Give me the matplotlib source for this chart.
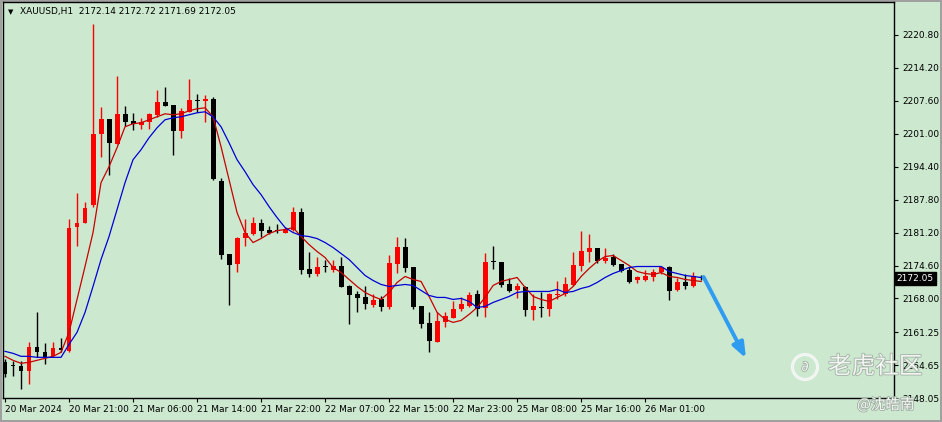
import numpy as np
import matplotlib.pyplot as plt
import matplotlib.patheffects as pe
from matplotlib.patches import Circle

# hourly XAUUSD candles, 20 Mar 13:00 .. 26 Mar
opens = [2155.2, 2154.4, 2154.4, 2153.4, 2158.2, 2157.2, 2156.4, 2158.0, 2157.4, 2182.4,
         2183.2, 2186.8, 2201.0, 2204.0, 2199.0, 2205.0, 2203.6, 2202.8, 2203.4, 2204.8,
         2207.4, 2206.8, 2201.6, 2205.4, 2207.8, 2207.6, 2208.0, 2191.6, 2177.0, 2175.0,
         2180.2, 2181.0, 2183.2, 2181.8, 2181.6, 2181.2, 2181.8, 2185.4, 2173.8, 2172.8,
         2174.4, 2173.6, 2174.6, 2170.4, 2168.8, 2168.2, 2166.6, 2167.8, 2166.2, 2175.0,
         2178.4, 2174.2, 2166.4, 2163.0, 2159.2, 2163.2, 2164.0, 2165.8, 2166.4, 2168.8,
         2166.0, 2175.4, 2175.4, 2170.8, 2169.6, 2170.2, 2165.6, 2166.2, 2165.8, 2168.6,
         2168.8, 2170.6, 2174.6, 2177.4, 2178.2, 2175.6, 2176.4, 2175.0, 2173.6, 2171.6,
         2171.6, 2172.2, 2173.2, 2174.2, 2169.6, 2171.2, 2170.4, 2172.14]
highs = [2155.8, 2155.4, 2155.4, 2159.2, 2165.2, 2159.0, 2159.2, 2160.0, 2184.0, 2189.2,
         2187.4, 2223.0, 2206.4, 2204.0, 2212.6, 2206.6, 2205.2, 2204.2, 2205.2, 2209.8,
         2210.4, 2206.8, 2206.2, 2212.0, 2209.0, 2208.8, 2208.4, 2192.2, 2177.0, 2180.4,
         2184.0, 2184.4, 2184.0, 2182.6, 2183.0, 2182.4, 2186.4, 2186.2, 2177.4, 2176.4,
         2175.8, 2175.8, 2176.4, 2170.6, 2169.4, 2170.4, 2168.8, 2168.4, 2176.8, 2180.4,
         2180.2, 2174.2, 2166.4, 2165.2, 2165.2, 2165.2, 2167.4, 2168.2, 2169.2, 2169.6,
         2177.2, 2178.6, 2175.4, 2172.0, 2171.0, 2170.4, 2168.8, 2169.2, 2169.0, 2171.4,
         2172.2, 2177.4, 2181.6, 2181.0, 2178.2, 2178.2, 2177.0, 2175.0, 2174.2, 2172.4,
         2173.6, 2173.8, 2174.4, 2174.4, 2172.0, 2172.8, 2173.2, 2172.72]
lows = [2152.2, 2152.4, 2149.8, 2150.8, 2156.2, 2154.8, 2156.2, 2157.2, 2157.2, 2178.6,
        2183.2, 2186.4, 2196.4, 2192.8, 2199.0, 2202.6, 2201.8, 2202.0, 2202.0, 2204.4,
        2206.6, 2196.8, 2200.2, 2205.4, 2205.4, 2203.4, 2191.8, 2176.0, 2166.6, 2173.2,
        2178.6, 2180.8, 2180.4, 2181.0, 2181.2, 2181.2, 2181.6, 2172.8, 2172.2, 2172.4,
        2173.2, 2173.2, 2170.2, 2162.8, 2165.2, 2165.8, 2166.2, 2165.4, 2165.8, 2173.0,
        2173.2, 2165.8, 2162.0, 2157.2, 2159.2, 2162.2, 2164.0, 2165.4, 2166.2, 2164.4,
        2164.2, 2173.8, 2170.2, 2169.2, 2168.0, 2164.4, 2163.6, 2164.2, 2164.4, 2167.8,
        2168.4, 2170.4, 2173.4, 2175.4, 2175.2, 2175.2, 2174.4, 2173.2, 2171.0, 2171.0,
        2171.4, 2171.4, 2172.8, 2167.6, 2169.4, 2169.8, 2170.2, 2171.69]
closes = [2152.8, 2154.4, 2153.4, 2158.2, 2157.2, 2156.2, 2158.0, 2157.6, 2182.2, 2183.2,
          2186.2, 2201.0, 2204.0, 2199.2, 2205.0, 2203.4, 2203.0, 2203.4, 2205.0, 2207.4,
          2206.6, 2201.6, 2205.6, 2207.8, 2207.6, 2208.0, 2192.0, 2176.8, 2174.8, 2180.2,
          2181.2, 2183.2, 2181.6, 2181.2, 2181.5, 2182.0, 2185.4, 2173.6, 2172.8, 2174.2,
          2174.2, 2174.6, 2170.2, 2168.6, 2168.0, 2166.8, 2167.6, 2166.2, 2175.2, 2178.4,
          2174.0, 2166.2, 2162.8, 2159.4, 2163.4, 2164.4, 2165.8, 2166.8, 2168.6, 2165.8,
          2175.4, 2175.3, 2170.6, 2169.4, 2170.4, 2165.6, 2166.4, 2166.0, 2168.8, 2168.8,
          2170.8, 2174.8, 2177.6, 2178.2, 2175.6, 2176.2, 2174.8, 2173.4, 2171.2, 2172.2,
          2172.4, 2173.2, 2174.2, 2169.4, 2171.2, 2170.4, 2172.4, 2172.05]

# moving averages as drawn on the chart
ma_fast = [2156.4, 2155.6, 2155.0, 2155.2, 2155.6, 2156.0, 2156.4, 2157.2, 2161.2, 2167.8,
           2174.4, 2181.2, 2191.2, 2194.4, 2198.2, 2202.4, 2203.0, 2203.2, 2203.8, 2204.4,
           2205.0, 2204.8, 2205.0, 2205.6, 2206.0, 2206.2, 2204.4, 2198.4, 2191.8, 2185.2,
           2181.2, 2179.2, 2180.0, 2181.0, 2181.6, 2181.8, 2182.2, 2180.4, 2178.8, 2177.4,
           2176.2, 2174.2, 2173.2, 2171.8, 2170.4, 2169.2, 2168.4, 2167.8, 2169.2, 2171.2,
           2172.4, 2171.8, 2171.4, 2168.4, 2165.2, 2163.8, 2163.2, 2163.6, 2164.8, 2166.2,
           2168.2, 2170.6, 2171.4, 2171.8, 2172.2, 2170.2, 2168.4, 2167.8, 2167.4, 2168.2,
           2169.0, 2170.4, 2172.4, 2174.0, 2175.4, 2176.4, 2176.6, 2175.6, 2174.6, 2173.4,
           2173.0, 2172.8, 2173.2, 2172.4, 2172.2, 2171.8, 2171.6, 2171.4]
ma_slow = [2157.4, 2157.0, 2156.4, 2156.4, 2156.2, 2156.2, 2156.2, 2156.2, 2158.8, 2161.2,
           2165.2, 2170.4, 2175.8, 2180.4, 2185.8, 2191.2, 2195.8, 2197.8, 2200.2, 2202.2,
           2203.8, 2204.2, 2204.4, 2204.8, 2205.2, 2205.4, 2204.4, 2202.4, 2199.2, 2195.8,
           2193.4, 2190.8, 2188.8, 2186.4, 2184.2, 2182.2, 2181.2, 2180.6, 2180.4, 2180.0,
           2179.2, 2178.2, 2177.0, 2175.8, 2174.2, 2172.6, 2171.6, 2170.8, 2170.4, 2170.6,
           2170.8, 2170.6, 2169.6, 2168.6, 2168.2, 2168.2, 2167.8, 2168.0, 2167.4, 2166.2,
           2166.4, 2167.2, 2167.8, 2168.4, 2169.2, 2169.4, 2169.4, 2169.4, 2169.4, 2169.8,
           2169.2, 2169.4, 2170.0, 2170.4, 2171.2, 2172.2, 2173.0, 2173.6, 2174.2, 2174.4,
           2174.4, 2174.4, 2174.4, 2173.4, 2173.0, 2172.6, 2172.4, 2172.2]

price_ticks = [2220.80, 2214.20, 2207.60, 2201.00, 2194.40, 2187.80,
               2181.20, 2174.60, 2168.00, 2161.25, 2154.65, 2148.05]
time_bars = [0, 8, 16, 24, 32, 40, 48, 56, 64, 72, 80]
time_labels = ["20 Mar 2024", "20 Mar 21:00", "21 Mar 06:00", "21 Mar 14:00",
               "21 Mar 22:00", "22 Mar 07:00", "22 Mar 15:00", "22 Mar 23:00",
               "25 Mar 08:00", "25 Mar 16:00", "26 Mar 01:00"]
header = "XAUUSD,H1  2172.14 2172.72 2171.69 2172.05"
last_price = 2172.05
arrow_start = (87.3, 2172.3)
arrow_end = (92.6, 2156.0)

bg = "#cce8cf"
fig = plt.figure(figsize=(9.42, 4.22), dpi=100, facecolor=bg)
fig.patch.set_edgecolor("#a0a0a0")
fig.patch.set_linewidth(1.5)
ax = fig.add_axes([3 / 942, 1 - 398 / 422, 891 / 942, 396 / 422])
ax.set_facecolor(bg)

x = np.arange(len(opens))
o = np.array(opens)
c = np.array(closes)
colors = np.where(c > o, "#ff0000", "#000000")
ax.vlines(x, lows, highs, colors=colors, linewidth=1)
body = np.maximum(np.abs(c - o), 0.22)
ax.bar(x, body, bottom=np.minimum(o, c), width=0.62, color=colors, linewidth=0)

ax.plot(x, ma_fast, color="#c80000", lw=0.9)
ax.plot(x, ma_slow, color="#0000d8", lw=0.9)

ax.annotate("", xy=arrow_end, xytext=arrow_start,
            arrowprops=dict(arrowstyle="-|>,head_width=0.35,head_length=0.9",
                            color="#2e9cf0", lw=2.8, shrinkA=0, shrinkB=0))

ax.set_xlim(-0.25, 111.1)
ax.set_ylim(2148.2, 2227.4)
for s in ax.spines.values():
    s.set_linewidth(1)

ax.yaxis.tick_right()
ax.set_yticks(price_ticks)
ax.set_yticklabels([f"{v:.2f}" for v in price_ticks], fontsize=6.5)
ax.tick_params(axis="y", length=3, width=0.8, pad=3)
ax.set_xticks(time_bars)
ax.set_xticklabels(time_labels, fontsize=6.5, ha="left")
ax.tick_params(axis="x", length=3, width=0.8, pad=2)

ax.text(1.003, last_price, f"{last_price:.2f}", transform=ax.get_yaxis_transform(),
        fontsize=6.5, color="white", va="center", ha="left",
        bbox=dict(boxstyle="square,pad=0.2", fc="black", ec="black"))

ax.text(0.006, 0.975, "▼", transform=ax.transAxes, fontsize=5, va="center", ha="left")
ax.text(0.019, 0.975, header, transform=ax.transAxes, fontsize=6.5, va="center", ha="left")

# watermark
shadow = [pe.withStroke(linewidth=1.2, foreground="#9aa89c")]
fig.text(828 / 942, 1 - 367 / 422, "老虎社区", fontsize=17, color="white", alpha=0.85,
         family=["Noto Sans CJK SC", "DejaVu Sans"], va="center", ha="left",
         path_effects=shadow)
fig.text(857 / 942, 1 - 405 / 422, "@沈皓南", fontsize=10.5, color="white", alpha=0.9,
         family=["Noto Sans CJK SC", "DejaVu Sans"], va="center", ha="left",
         path_effects=shadow)
logo = Circle((8.05, 0.55), 0.125, transform=fig.dpi_scale_trans,
              fill=False, ec="white", lw=2.2, alpha=0.85, path_effects=shadow)
fig.patches.append(logo)
fig.text(8.05 / 9.42, 0.55 / 4.22, "∂", fontsize=10, color="white", alpha=0.85,
         va="center", ha="center", path_effects=shadow)

fig.savefig("out.png", dpi=100, facecolor=bg)
